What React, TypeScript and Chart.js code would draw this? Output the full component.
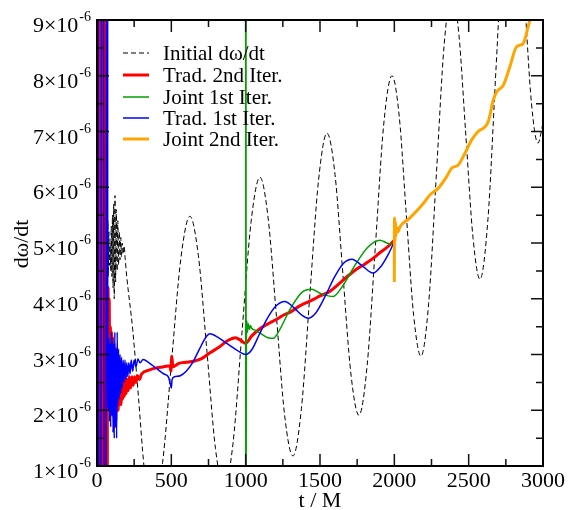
import React, { useEffect, useRef } from 'react';
import { Chart, registerables } from 'chart.js';

Chart.register(...registerables);

const W = 568;
const H = 510;

// x axis (t / M) and y axis (dω/dt, in units of 1e-6)
const xMajorTicks = [0, 500, 1000, 1500, 2000, 2500, 3000];
const xMinorTicks = [250, 750, 1250, 1750, 2250, 2750];
const yMajorTicks = [1, 2, 3, 4, 5, 6, 7, 8, 9];
const yMinorTicks = [1.5, 2.5, 3.5, 4.5, 5.5, 6.5, 7.5, 8.5];
const yExponent = '-6';

const legendLabels = ['Initial dω/dt', 'Trad. 2nd Iter.', 'Joint 1st Iter.', 'Trad. 1st Iter.', 'Joint 2nd Iter.'];

// [t, value ×1e-6]
const initialDwdt = [
  [65, 4.2], [67, 5.75], [70, 4.3], [73, 5.4], [76, 4.4], [80, 5.2], [84, 4.6], [88, 5.0], [92, 4.5], [96, 5.3],
  [100, 4.4], [104, 5.5], [108, 4.2], [112, 5.7], [116, 4.0], [121, 5.85], [125, 4.3], [130, 5.6], [135, 4.5],
  [140, 5.4], [145, 4.6], [150, 5.2], [155, 4.7], [160, 5.1], [165, 4.75], [170, 5.0], [176, 4.8], [182, 4.95],
  [190, 4.7], [200, 4.4], [240, 3.45], [280, 2.2], [316, 1.0], [350, 0.4], [380, 0.3], [441, 1.06], [502, 2.89],
  [564, 4.72], [625, 5.48], [682, 4.77], [740, 3.04], [797, 1.31], [855, 0.6], [915, 1.41], [975, 3.39],
  [1036, 5.37], [1096, 6.18], [1151, 5.45], [1207, 3.68], [1262, 1.91], [1318, 1.18], [1375, 2.03], [1432, 4.08],
  [1490, 6.12], [1547, 6.97], [1601, 6.23], [1654, 4.44], [1708, 2.65], [1762, 1.91], [1817, 2.8], [1873, 4.96],
  [1928, 7.11], [1984, 8.0], [2033, 7.27], [2081, 5.49], [2130, 3.7], [2179, 2.97], [2231, 3.92], [2283, 6.24],
  [2335, 8.55], [2387, 9.5], [2434, 8.75], [2481, 6.93], [2529, 5.1], [2576, 4.35], [2630, 5.44], [2683, 8.08],
  [2737, 10.71], [2791, 11.8], [2835, 11.07], [2878, 9.3], [2922, 7.52], [2966, 6.79], [3000, 7.15],
];

const trad2nd = [
  [1, -10], [9, 20], [18, -10], [26, 20], [35, -10], [43, 20], [52, -10], [60, 20], [68, -10],
  [70, 3.9], [74, 4.2], [78, 3.4], [82, 4.0], [86, 2.6], [90, 3.5], [94, 2.2], [98, 3.4], [102, 2.0], [106, 3.3],
  [110, 1.9], [114, 3.2], [118, 1.7], [122, 3.0], [126, 1.8], [130, 3.1], [134, 2.0], [138, 2.9], [142, 2.0],
  [147, 2.8], [152, 2.1], [157, 2.7], [162, 2.1], [167, 2.75], [172, 2.2], [178, 2.6], [184, 2.25], [190, 2.6],
  [197, 2.3], [204, 2.55], [211, 2.35], [218, 2.6], [226, 2.4], [234, 2.6], [243, 2.45], [252, 2.6], [262, 2.5],
  [273, 2.62], [285, 2.55], [300, 2.65], [350, 2.72], [400, 2.76],
  [450, 2.78], [490, 2.8], [497, 2.7], [503, 2.97], [510, 2.78], [550, 2.84], [600, 2.86], [650, 2.88],
  [700, 2.92], [760, 3.03], [820, 3.13], [880, 3.25], [930, 3.3], [970, 3.25], [1000, 3.2], [1040, 3.33],
  [1100, 3.47], [1150, 3.55], [1200, 3.62], [1250, 3.7], [1300, 3.76], [1350, 3.85], [1400, 3.92], [1450, 3.98],
  [1500, 4.05], [1560, 4.12], [1620, 4.25], [1680, 4.39], [1740, 4.52], [1800, 4.62], [1850, 4.71], [1900, 4.82],
  [1950, 4.92], [2000, 5.05],
];

const joint1st = [
  [998, 9.5], [1000, 12], [1001, -2], [1002, 12], [1003, 0.5], [1005, 3.4], [1008, 3.6], [1012, 3.4],
  [1018, 3.55], [1025, 3.45], [1032, 3.52], [1040, 3.47], [1060, 3.44], [1100, 3.38], [1150, 3.3], [1186, 3.29],
  [1230, 3.45], [1300, 3.82], [1380, 4.12], [1444, 4.17], [1500, 4.1], [1589, 4.04], [1650, 4.22], [1740, 4.62],
  [1820, 4.92], [1903, 5.05], [1950, 5.0], [2004, 4.96],
];

const trad1st = [
  [3, 20], [20, -10], [37, 20], [54, -10], [71, 20],
  [72, 3.0], [76, 2.0], [80, 3.3], [84, 1.8], [88, 3.2], [92, 1.7], [96, 3.4], [100, 1.9], [104, 3.3], [108, 1.6],
  [112, 3.2], [116, 1.5], [120, 3.4], [124, 1.7], [128, 3.1], [132, 1.5], [136, 3.4], [140, 2.1], [145, 3.1],
  [150, 2.2], [155, 3.0], [160, 2.3], [165, 2.95], [170, 2.4], [176, 2.9], [182, 2.5], [188, 2.9], [194, 2.55],
  [200, 2.85], [207, 2.6], [214, 2.85], [222, 2.65], [230, 2.9], [240, 2.7], [250, 2.9], [262, 2.78], [275, 2.92],
  [290, 2.85], [310, 2.91], [350, 2.85], [400, 2.75], [450, 2.65], [480, 2.6], [495, 2.45], [500, 2.4], [505, 2.55],
  [520, 2.6], [560, 2.62], [600, 2.7], [640, 2.84], [690, 3.1], [730, 3.3], [760, 3.37], [800, 3.33],
  [872, 3.2], [940, 3.08], [1000, 3.0], [1040, 3.08], [1090, 3.35], [1140, 3.62], [1200, 3.86], [1264, 3.95],
  [1320, 3.85], [1380, 3.7], [1420, 3.65], [1470, 3.74], [1530, 4.02], [1600, 4.4], [1660, 4.64], [1715, 4.71],
  [1780, 4.6], [1856, 4.46], [1910, 4.58], [1960, 4.8], [2004, 5.05],
];

const joint2nd = [
  [2000, 4.3], [2001, 5.45], [2003, 5.0], [2006, 5.38], [2010, 5.12], [2015, 5.28], [2025, 5.2], [2038, 5.29],
  [2105, 5.45], [2195, 5.71], [2239, 5.86], [2295, 5.98], [2352, 6.19], [2385, 6.34], [2430, 6.4], [2475, 6.61],
  [2520, 6.85], [2564, 7.0], [2632, 7.18], [2665, 7.56], [2688, 7.71], [2733, 7.83], [2777, 8.16], [2822, 8.52],
  [2867, 8.58], [2900, 8.88], [2912, 9.0], [2945, 9.4],
];

const toPoints = (arr: number[][]) => arr.map(([x, y]) => ({ x, y }));

const seriesStyles = [
  { color: '#000000', width: 1, dash: [5, 3] },
  { color: '#ff0000', width: 3, dash: [] },
  { color: '#00a000', width: 1.5, dash: [] },
  { color: '#0000ff', width: 1.5, dash: [] },
  { color: '#ffa500', width: 3, dash: [] },
];

const SERIF = '"Liberation Serif", "Times New Roman", serif';

const framePlugin = {
  id: 'framePlugin',
  afterDraw(chart: any) {
    const { ctx, chartArea: a, scales } = chart;
    const xs = scales.x;
    const ys = scales.y;
    ctx.save();
    // ticks
    ctx.strokeStyle = '#111';
    ctx.lineWidth = 1.5;
    ctx.setLineDash([]);
    const vTick = (px: number, len: number) => {
      ctx.beginPath();
      ctx.moveTo(px, a.bottom);
      ctx.lineTo(px, a.bottom - len);
      ctx.moveTo(px, a.top);
      ctx.lineTo(px, a.top + len);
      ctx.stroke();
    };
    const hTick = (py: number, len: number) => {
      ctx.beginPath();
      ctx.moveTo(a.left, py);
      ctx.lineTo(a.left + len, py);
      ctx.moveTo(a.right, py);
      ctx.lineTo(a.right - len, py);
      ctx.stroke();
    };
    xMajorTicks.forEach((v) => vTick(xs.getPixelForValue(v), 12));
    xMinorTicks.forEach((v) => vTick(xs.getPixelForValue(v), 7));
    yMajorTicks.forEach((v) => hTick(ys.getPixelForValue(v), 12));
    yMinorTicks.forEach((v) => hTick(ys.getPixelForValue(v), 7));

    // frame
    ctx.strokeStyle = '#000';
    ctx.lineWidth = 2;
    ctx.strokeRect(a.left, a.top, a.right - a.left, a.bottom - a.top);

    // x tick labels
    ctx.fillStyle = '#000';
    ctx.font = `22px ${SERIF}`;
    ctx.textAlign = 'center';
    ctx.textBaseline = 'alphabetic';
    xMajorTicks.forEach((v) => {
      ctx.fillText(String(v), xs.getPixelForValue(v), a.bottom + 21);
    });

    // y tick labels: "n×10" with superscript exponent
    yMajorTicks.forEach((v) => {
      const py = ys.getPixelForValue(v);
      ctx.font = `14px ${SERIF}`;
      ctx.textAlign = 'right';
      const supRight = a.left - 6;
      const supW = ctx.measureText(yExponent).width;
      ctx.fillText(yExponent, supRight, py + 1);
      ctx.font = `22px ${SERIF}`;
      ctx.fillText(`${v}×10`, supRight - supW - 1, py + 12);
    });

    // axis titles
    ctx.font = `22px ${SERIF}`;
    ctx.textAlign = 'center';
    ctx.fillText('t / M', (a.left + a.right) / 2, H - 3);
    ctx.save();
    ctx.translate(28, (a.top + a.bottom) / 2 + 1);
    ctx.rotate(-Math.PI / 2);
    ctx.fillText('dω/dt', 0, 0);
    ctx.restore();

    // legend
    const rowY = [53, 75, 97, 118, 139];
    ctx.font = `21px ${SERIF}`;
    ctx.textAlign = 'left';
    legendLabels.forEach((label, i) => {
      const st = seriesStyles[i];
      const y = rowY[i];
      ctx.strokeStyle = st.color;
      ctx.lineWidth = st.width;
      ctx.setLineDash(st.dash);
      ctx.beginPath();
      ctx.moveTo(123, y);
      ctx.lineTo(149, y);
      ctx.stroke();
      ctx.setLineDash([]);
      ctx.fillStyle = '#000';
      ctx.fillText(label, 163, y + 7);
    });
    ctx.restore();
  },
};

export default function App() {
  const ref = useRef<HTMLCanvasElement | null>(null);
  useEffect(() => {
    if (!ref.current) return;
    const allData = [initialDwdt, trad2nd, joint1st, trad1st, joint2nd];
    const datasets = allData.map((d, i) => ({
      label: legendLabels[i],
      data: toPoints(d),
      borderColor: seriesStyles[i].color,
      backgroundColor: seriesStyles[i].color,
      borderWidth: seriesStyles[i].width,
      borderDash: seriesStyles[i].dash,
      pointRadius: 0,
      fill: false,
      cubicInterpolationMode: 'monotone' as const,
      order: 5 - i,
    }));
    const chart = new Chart(ref.current, {
      type: 'line',
      data: { datasets },
      options: {
        animation: false,
        responsive: false,
        devicePixelRatio: 1,
        layout: { padding: { left: 97, right: 25, top: 20, bottom: 44 } },
        plugins: { legend: { display: false }, tooltip: { enabled: false } },
        scales: {
          x: { type: 'linear', min: 0, max: 3000, display: false },
          y: { type: 'linear', min: 1, max: 9, display: false },
        },
      },
      plugins: [framePlugin],
    });
    return () => chart.destroy();
  }, []);
  return (
    <div style={{ position: 'absolute', left: 0, top: 0, width: W, height: H, background: '#fff' }}>
      <canvas ref={ref} width={W} height={H} style={{ width: W, height: H, display: 'block' }} />
    </div>
  );
}
